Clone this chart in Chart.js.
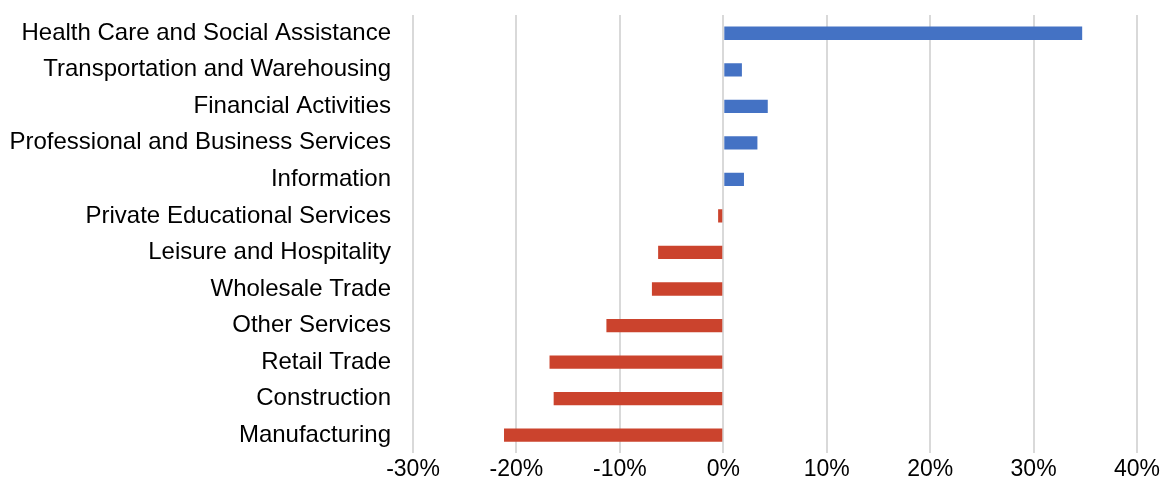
<!DOCTYPE html>
<html>
<head>
<meta charset="utf-8">
<script src="https://cdn.jsdelivr.net/npm/chart.js@4"></script>
<style>
  html, body { margin: 0; padding: 0; background: #ffffff; }
  #wrap { width: 1162px; height: 494px; position: relative; }
</style>
</head>
<body>
<div id="wrap"><canvas id="c"></canvas></div>
<script>
const categories = [
  "Health Care and Social Assistance",
  "Transportation and Warehousing",
  "Financial Activities",
  "Professional and Business Services",
  "Information",
  "Private Educational Services",
  "Leisure and Hospitality",
  "Wholesale Trade",
  "Other Services",
  "Retail Trade",
  "Construction",
  "Manufacturing"
];
const changeValues = [34.7, 1.8, 4.3, 3.3, 2.0, -0.5, -6.3, -6.9, -11.3, -16.8, -16.4, -21.2];
const tickValues = [-30, -20, -10, 0, 10, 20, 30, 40];
const positiveColor = "#4472C4";
const negativeColor = "#CB432D";

const barColors = changeValues.map(v => v >= 0 ? positiveColor : negativeColor);

new Chart(document.getElementById("c"), {
  type: "bar",
  data: {
    labels: categories,
    datasets: [{
      data: changeValues,
      backgroundColor: barColors,
      borderWidth: 0,
      barPercentage: 0.364,
      categoryPercentage: 1.0
    }]
  },
  options: {
    indexAxis: "y",
    responsive: true,
    maintainAspectRatio: false,
    animation: false,
    layout: { padding: { top: 15, right: 25, bottom: 9, left: 10 } },
    plugins: { legend: { display: false }, tooltip: { enabled: false } },
    scales: {
      x: {
        min: tickValues[0],
        max: tickValues[tickValues.length - 1],
        afterBuildTicks: (axis) => { axis.ticks = tickValues.map(v => ({ value: v })); },
        afterFit: (s) => { s.paddingLeft = 0; s.paddingRight = 0; },
        grid: { color: "#D9D9D9", lineWidth: 2, drawTicks: false },
        border: { display: false },
        ticks: {
          padding: 2,
          color: "#000000",
          font: { family: "'Liberation Sans', Arial, sans-serif", size: 23 },
          callback: (v) => v + "%"
        }
      },
      y: {
        afterFit: (s) => { s.width = 403; s.paddingTop = 0; s.paddingBottom = 0; },
        grid: { display: false, drawTicks: false },
        border: { display: false },
        ticks: {
          padding: 22,
          color: "#000000",
          font: { family: "'Liberation Sans', Arial, sans-serif", size: 24 }
        }
      }
    }
  }
});
</script>
</body>
</html>
